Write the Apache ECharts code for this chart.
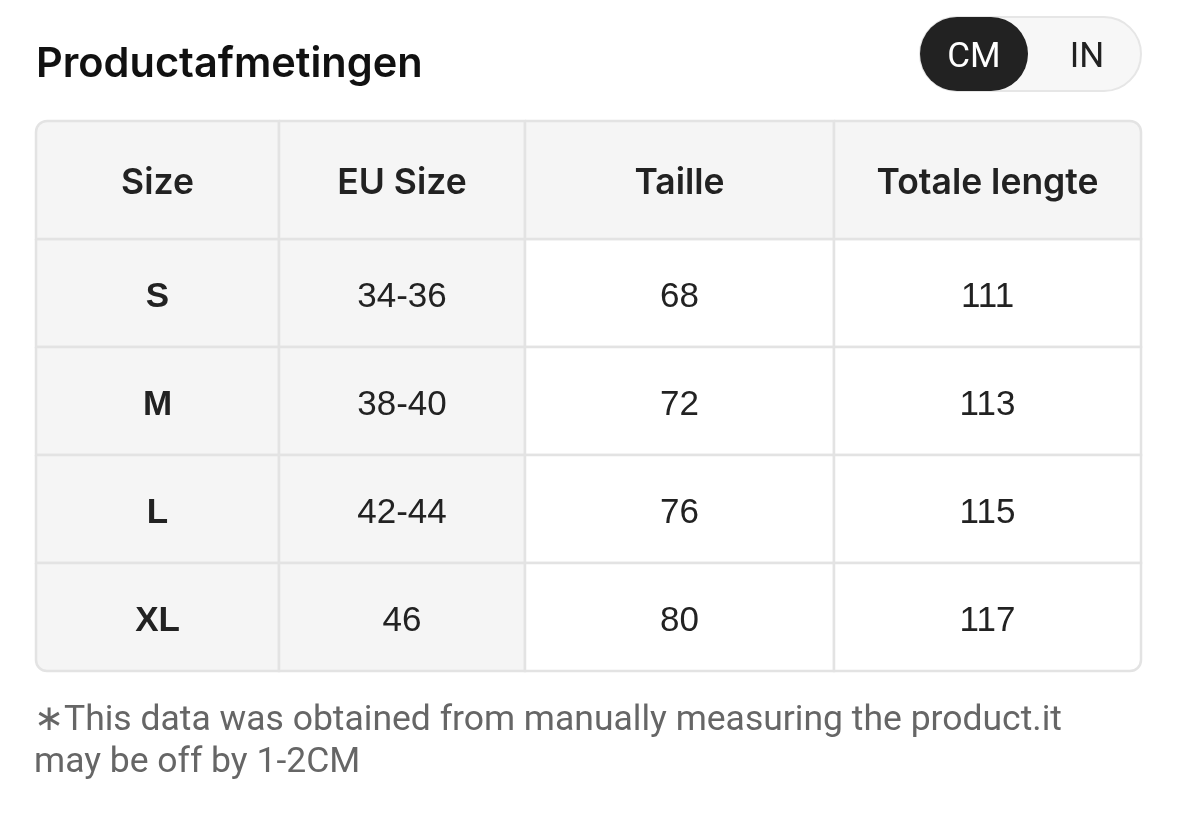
<!DOCTYPE html>
<html>
<head>
<meta charset="utf-8">
<script src="https://cdn.jsdelivr.net/npm/echarts@6/dist/echarts.min.js"></script>
<style>
html,body{margin:0;padding:0;background:#fff;}
#chart{width:1178px;height:816px;}
</style>
</head>
<body>
<div id="chart"></div>
<script>
// ---- data ----
const columns = ['Size', 'EU Size', 'Taille', 'Totale lengte'];
const sizes = ['S', 'M', 'L', 'XL'];
const euSizes = ['34-36', '38-40', '42-44', '46'];
const taille = [68, 72, 76, 80];
const totaleLengte = [111, 113, 115, 117];
const units = ['CM', 'IN'];
const titleText = 'Productafmetingen';
const noteText = '\u2217This data was obtained from manually measuring the product.it\nmay be off by 1-2CM';

// ---- layout / style ----
const colEdges = [36, 279, 525, 834, 1141];
const bodyTop = 239, bodyHeight = 432, headerHeight = 118;
const greyCols = [true, true, false, false];
const boldCols = [true, false, false, false];
const borderColor = '#e3e3e3';
const greyFill = '#f5f5f5';
const textColor = '#222222';
const radius = 11;

const columnValues = [sizes, euSizes, taille, totaleLengte];

const chart = echarts.init(document.getElementById('chart'), null, {renderer: 'canvas'});

const grids = [], xAxes = [], yAxes = [], series = [];
columns.forEach((col, ci) => {
  grids.push({left: colEdges[ci], width: colEdges[ci + 1] - colEdges[ci], top: bodyTop, height: bodyHeight});
  xAxes.push({
    type: 'category', gridIndex: ci, data: [col], position: 'top',
    axisLine: {show: false}, axisTick: {show: false}, splitLine: {show: false},
    axisLabel: {show: false}
  });
  yAxes.push({
    type: 'category', gridIndex: ci, data: sizes, inverse: true,
    axisLine: {show: false}, axisTick: {show: false}, axisLabel: {show: false}, splitLine: {show: false}
  });
  const last = columns.length - 1;
  series.push({
    type: 'custom', xAxisIndex: ci, yAxisIndex: ci, clip: false,
    encode: {x: 0, y: 1},
    data: columnValues[ci].map((v, ri) => [0, ri, String(v)]),
    renderItem: function (params, api) {
      const ri = api.value(1);
      const c = api.coord([0, ri]);
      const s = api.size([1, 1]);
      const x0 = c[0] - s[0] / 2, y0 = c[1] - s[1] / 2;
      const children = [];
      let r = [0, 0, 0, 0];
      if (ri === sizes.length - 1 && ci === 0) r = [0, 0, 0, radius];
      if (ri === sizes.length - 1 && ci === last) r = [0, 0, radius, 0];
      children.push({
        type: 'rect',
        shape: {x: x0, y: y0, width: s[0], height: s[1], r: r},
        style: {fill: greyCols[ci] ? greyFill : '#ffffff', stroke: borderColor, lineWidth: 2.5}
      });
      children.push({
        type: 'text',
        style: {
          x: c[0], y: c[1] + 4, text: api.value(2),
          align: 'center', verticalAlign: 'middle',
          fill: textColor,
          font: (boldCols[ci] ? 'bold ' : '') + '35px "Liberation Sans", Arial, sans-serif'
        }
      });
      if (ri === 0) {
        let hr = [0, 0, 0, 0];
        if (ci === 0) hr = [radius, 0, 0, 0];
        if (ci === last) hr = [0, radius, 0, 0];
        children.push({
          type: 'rect',
          shape: {x: x0, y: y0 - headerHeight, width: s[0], height: headerHeight, r: hr},
          style: {fill: greyFill, stroke: borderColor, lineWidth: 2.5}
        });
        children.push({
          type: 'text',
          style: {
            x: c[0], y: y0 - headerHeight / 2 + 3, text: col,
            align: 'center', verticalAlign: 'middle',
            fill: textColor,
            font: '600 35.5px Inter, "Noto Sans", sans-serif'
          }
        });
      }
      return {type: 'group', children: children};
    }
  });
});

const option = {
  animation: false,
  backgroundColor: '#ffffff',
  grid: grids,
  xAxis: xAxes,
  yAxis: yAxes,
  series: series,
  graphic: [
    {type: 'text', left: 36, top: 44, style: {text: titleText, fill: '#111111', font: '600 41.5px Inter, "Noto Sans", sans-serif'}},
    {type: 'rect', shape: {x: 920, y: 17, width: 221, height: 74, r: 37}, style: {fill: '#f7f7f7', stroke: '#e6e6e6', lineWidth: 2}},
    {type: 'rect', shape: {x: 920, y: 17, width: 108, height: 74, r: 37}, style: {fill: '#222222'}},
    {type: 'text', style: {x: 974, y: 58, text: units[0], align: 'center', verticalAlign: 'middle', fill: '#ffffff', font: '35px Roboto, "Liberation Sans", sans-serif'}},
    {type: 'text', style: {x: 1087, y: 58, text: units[1], align: 'center', verticalAlign: 'middle', fill: '#222222', font: '35px Roboto, "Liberation Sans", sans-serif'}},
    {type: 'text', left: 34, top: 700, style: {text: noteText, fill: '#666666', font: '35.5px Roboto, "Noto Sans", sans-serif', lineHeight: 42}}
  ]
};
chart.setOption(option);
</script>
</body>
</html>
